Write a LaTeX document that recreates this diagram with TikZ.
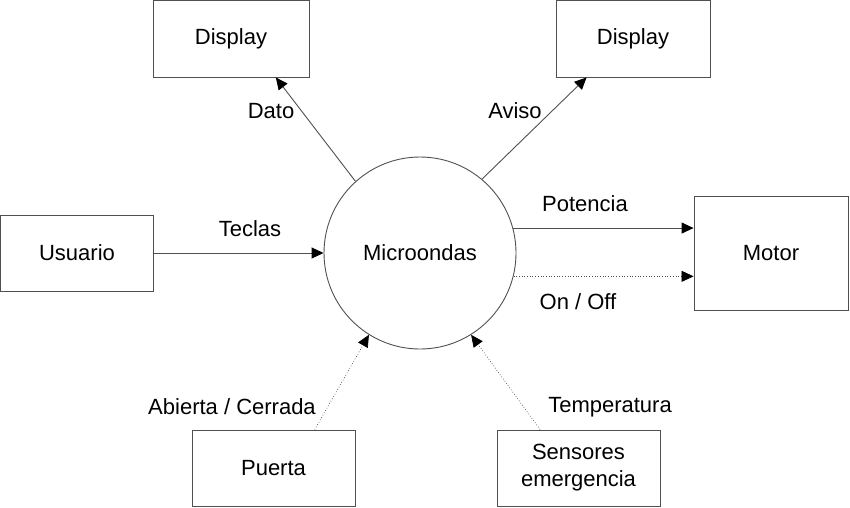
\documentclass[tikz,border=0pt]{standalone}
\usepackage{fontspec}
\setmainfont{Liberation Sans}
\usetikzlibrary{arrows.meta}
\definecolor{linegray}{RGB}{80,80,80}
\begin{document}
\begin{tikzpicture}[x=1pt,y=-1pt,
  every node/.style={font=\fontsize{22}{27}\selectfont, text=black},
  boxnode/.style={draw=linegray, line width=0.9pt, rectangle, inner sep=0pt, align=center},
  procnode/.style={draw=linegray, line width=0.9pt, circle, inner sep=0pt, minimum size=192pt},
  lbl/.style={inner sep=0pt},
  flow/.style={draw=linegray, line width=0.9pt, -{Triangle[length=12pt,width=11pt,color=black]}},
  ctrl/.style={draw=linegray, line width=0.7pt, dotted, -{Triangle[length=12pt,width=11pt,color=black]}}
]
\useasboundingbox (0,0) rectangle (850,507);
% nodes
\node[procnode] (mc) at (420,253) {Microondas};
\node[boxnode, minimum width=156pt, minimum height=77pt] (d1) at (231,38.5) {Display};
\node[boxnode, minimum width=154pt, minimum height=77pt] (d2) at (633,38.5) {Display};
\node[boxnode, minimum width=153pt, minimum height=76pt] (us) at (77,253) {Usuario};
\node[boxnode, minimum width=154pt, minimum height=114pt] (mo) at (771,253) {Motor};
\node[boxnode, minimum width=163pt, minimum height=76pt] (pu) at (273.5,468) {Puerta};
\node[boxnode, minimum width=163pt, minimum height=76pt] (se) at (578.5,468) {Sensores\\emergencia};
% connectors
\draw[flow] (us.east) -- (mc.west);
\draw[flow] (mc.132.5) -- (d1.-41);
\draw[flow] (mc.50.8) -- (d2.-140.7);
\draw[flow] (mc.15.7) -- (mc.15.7 -| mo.west);
\draw[ctrl] (mc.-14.5) -- (mc.-14.5 -| mo.west);
\draw[ctrl] (pu.43.2) -- (mc.238.6);
\draw[ctrl] (se.135.4) -- (mc.-58.1);
% labels
\node[lbl] (lteclas) at (250,229) {Teclas};
\node[lbl] (ldato) at (271,111) {Dato};
\node[lbl] (laviso) at (515,111) {Aviso};
\node[lbl] (lpot) at (585,204) {Potencia};
\node[lbl] (lonoff) at (578,302) {On / Off};
\node[lbl] (labc) at (232,407) {Abierta / Cerrada};
\node[lbl] (ltemp) at (610,407) {Temperatura};
\end{tikzpicture}
\end{document}
